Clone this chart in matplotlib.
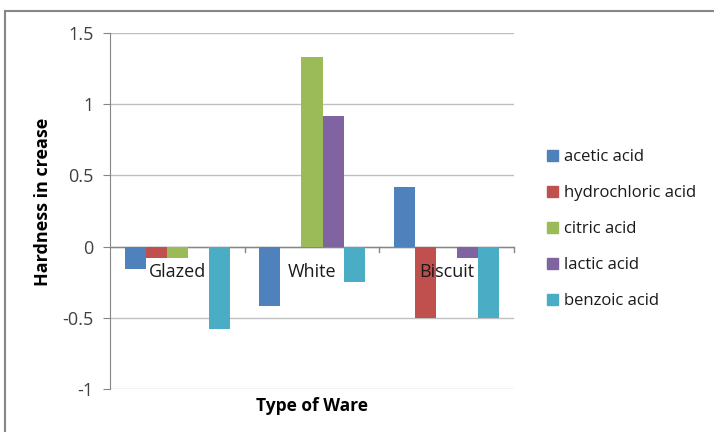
import matplotlib
matplotlib.use("Agg")
import matplotlib.pyplot as plt
from matplotlib.lines import Line2D
import numpy as np

categories = ["Glazed", "White", "Biscuit"]
series_names = ["acetic acid", "hydrochloric acid", "citric acid", "lactic acid", "benzoic acid"]
acetic = [-0.16, -0.42, 0.42]
hydrochloric = [-0.08, 0.0, -0.5]
citric = [-0.08, 1.33, 0.0]
lactic = [0.0, 0.92, -0.08]
benzoic = [-0.58, -0.25, -0.5]
y_ticks = [-1, -0.5, 0, 0.5, 1, 1.5]
y_tick_labels = ["-1", "-0.5", "0", "0.5", "1", "1.5"]

series_values = [acetic, hydrochloric, citric, lactic, benzoic]
colors = ["#4F81BD", "#C0504D", "#9BBB59", "#8064A2", "#4BACC6"]

plt.rcParams["font.family"] = ["Open Sans", "DejaVu Sans"]

W, H = 714, 432
fig = plt.figure(figsize=(W / 100, H / 100), dpi=100)
ax = fig.add_axes([110 / W, 1 - 389 / H, 404 / W, 356 / H])

n = len(series_names)
bar_w = 0.156
x = np.arange(len(categories))
for i, (name, vals, c) in enumerate(zip(series_names, series_values, colors)):
    offs = (i - (n - 1) / 2) * bar_w
    ax.bar(x + offs, vals, width=bar_w, color=c, label=name, zorder=3)

ax.set_xlim(-0.5, len(categories) - 0.5)
ax.set_ylim(-1, 1.5)
ax.set_yticks(y_ticks)
ax.set_yticklabels(y_tick_labels, fontsize=13, color="#404040")
ax.yaxis.grid(True, color="#BFBFBF", linewidth=1.0, zorder=0)
ax.set_axisbelow(True)
for s in ["top", "right", "bottom"]:
    ax.spines[s].set_visible(False)
ax.spines["left"].set_color("#868686")
ax.tick_params(axis="y", direction="out", length=5, color="#868686", pad=7)

# category axis drawn along zero
ax.set_xticks([])
ax.axhline(0, color="#868686", linewidth=1.0, zorder=2)
for b in np.arange(0.5, len(categories) - 0.4, 1.0):
    ax.plot([b, b], [0, -0.035], color="#868686", linewidth=1.0, zorder=2,
            clip_on=False)
for xi, cat in zip(x, categories):
    ax.text(xi, -0.18, cat, ha="center", va="center", fontsize=13,
            color="#1A1A1A", zorder=4)

fig.text(43 / W, 1 - 202 / H, "Hardness in crease", rotation=90,
         ha="center", va="center", fontsize=13, fontweight="bold")
fig.text(312 / W, 1 - 406 / H, "Type of Ware", ha="center", va="center",
         fontsize=12.5, fontweight="bold")

handles = [plt.Rectangle((0, 0), 1, 1, color=c) for c in colors]
fig.legend(handles, series_names, loc="upper left",
           bbox_to_anchor=(532 / W, 1 - 134 / H), frameon=False, fontsize=12,
           handlelength=0.65, handleheight=0.65, handletextpad=0.4,
           labelspacing=1.2, labelcolor="#1A1A1A")

# outer chart frame (top and left edges)
fig.add_artist(Line2D([5 / W, 1.0], [1 - 10.5 / H, 1 - 10.5 / H],
                      transform=fig.transFigure, color="#868686", linewidth=1.5))
fig.add_artist(Line2D([5 / W, 5 / W], [0, 1 - 10.5 / H],
                      transform=fig.transFigure, color="#868686", linewidth=1.5))

fig.savefig("out.png", dpi=100, facecolor="white")
